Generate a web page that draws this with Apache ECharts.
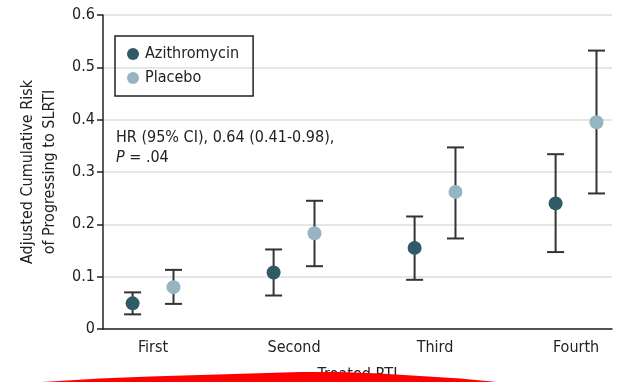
<!DOCTYPE html>
<html>
<head>
<meta charset="utf-8">
<script src="https://cdn.jsdelivr.net/npm/echarts@6/dist/echarts.min.js"></script>
<style>
html,body{margin:0;padding:0;background:#fff;}
#c{width:617px;height:382px;}
</style>
</head>
<body>
<div id="c"></div>
<script>
var categories = ['First', 'Second', 'Third', 'Fourth'];
var seriesNames = ['Azithromycin', 'Placebo'];
var aziMean = [0.049, 0.108, 0.155, 0.240];
var aziLow  = [0.028, 0.064, 0.094, 0.147];
var aziHigh = [0.070, 0.152, 0.215, 0.334];
var plaMean = [0.080, 0.183, 0.262, 0.395];
var plaLow  = [0.048, 0.120, 0.173, 0.259];
var plaHigh = [0.113, 0.245, 0.347, 0.532];
var yTicks = [0, 0.1, 0.2, 0.3, 0.4, 0.5, 0.6];

var FONT = '"DejaVu Sans Condensed", "DejaVu Sans", sans-serif';
var FS = 16;
var TXT = '#222222';
var C_AZI = '#305a66';
var C_PLA = '#97b5c1';
var OFF = 0.145;

function pts(mean, off) {
  return mean.map(function (v, i) { return [i + off, v]; });
}
function bars(low, high, off) {
  return low.map(function (v, i) { return [i + off, v, high[i]]; });
}
function errItem(params, api) {
  var x = api.value(0);
  var lo = api.coord([x, api.value(1)]);
  var hi = api.coord([x, api.value(2)]);
  var w = 8.5;
  var st = { stroke: '#333', lineWidth: 2 };
  return {
    type: 'group',
    children: [
      { type: 'line', shape: { x1: lo[0], y1: lo[1], x2: hi[0], y2: hi[1] }, style: st },
      { type: 'line', shape: { x1: lo[0] - w, y1: lo[1], x2: lo[0] + w, y2: lo[1] }, style: st },
      { type: 'line', shape: { x1: hi[0] - w, y1: hi[1], x2: hi[0] + w, y2: hi[1] }, style: st }
    ]
  };
}

var chart = echarts.init(document.getElementById('c'), null, { renderer: 'canvas' });

// red annotation stroke overlapping the bottom of the picture
var redShape = [[42, 382], [100, 378.5], [150, 376.5], [200, 375], [250, 373.5], [300, 372],
  [340, 372], [380, 373.5], [420, 376], [460, 378.5], [502, 382.5], [42, 382.5]];

chart.setOption({
  animation: false,
  textStyle: { fontFamily: FONT },
  grid: { left: 103, right: 5, top: 15, bottom: 53, outerBoundsMode: 'none', containLabel: false },
  legend: {
    orient: 'vertical',
    left: 115,
    top: 36,
    padding: [10, 14, 10, 12],
    itemGap: 8,
    itemWidth: 12,
    itemHeight: 12,
    borderColor: '#222',
    borderWidth: 1.5,
    borderRadius: 0,
    data: [{ name: seriesNames[0], icon: 'circle' }, { name: seriesNames[1], icon: 'circle' }],
    textStyle: { fontFamily: FONT, fontSize: FS, color: TXT, padding: [0, 0, 0, 1] }
  },
  xAxis: {
    type: 'value',
    min: -0.355,
    max: 3.255,
    name: 'Treated RTI',
    nameLocation: 'middle',
    nameGap: 38,
    nameTextStyle: { fontFamily: FONT, fontSize: FS, color: TXT },
    splitLine: { show: false },
    axisLine: { show: true, onZero: false, lineStyle: { color: '#222', width: 1.5 } },
    axisTick: { show: false },
    axisLabel: {
      customValues: [0, 1, 2, 3],
      formatter: function (v) { return categories[Math.round(v)]; },
      fontFamily: FONT, fontSize: FS, color: TXT, margin: 11
    }
  },
  yAxis: {
    type: 'value',
    min: 0,
    max: 0.6,
    interval: 0.1,
    name: 'Adjusted Cumulative Risk\nof Progressing to SLRTI',
    nameLocation: 'middle',
    nameGap: 40,
    nameTextStyle: { fontFamily: FONT, fontSize: FS, color: TXT, lineHeight: 22 },
    axisLine: { show: true, onZero: false, lineStyle: { color: '#222', width: 1.5 } },
    axisTick: { show: true, length: 6, lineStyle: { color: '#222', width: 1.5 } },
    axisLabel: {
      formatter: function (v) {
        for (var i = 0; i < yTicks.length; i++) {
          if (Math.abs(yTicks[i] - v) < 1e-9) return String(yTicks[i]);
        }
        return '';
      },
      fontFamily: FONT, fontSize: FS, color: TXT, margin: 8
    },
    splitLine: { show: true, lineStyle: { color: '#e6e6e6', width: 2 } }
  },
  graphic: [
    {
      type: 'text',
      left: 116,
      top: 128,
      style: {
        text: 'HR (95% CI), 0.64 (0.41-0.98),\n{it|P} = .04',
        font: FS + 'px ' + FONT,
        fill: TXT,
        lineHeight: 20,
        rich: { it: { fontStyle: 'italic', fontSize: FS, fontFamily: FONT, fill: TXT } }
      }
    },
    {
      type: 'polygon',
      z: 100,
      shape: { points: redShape },
      style: { fill: '#ff0000' }
    }
  ],
  series: [
    {
      type: 'custom',
      name: 'azi-ci',
      renderItem: errItem,
      data: bars(aziLow, aziHigh, -OFF),
      z: 2,
      silent: true
    },
    {
      type: 'custom',
      name: 'pla-ci',
      renderItem: errItem,
      data: bars(plaLow, plaHigh, OFF),
      z: 2,
      silent: true
    },
    {
      type: 'scatter',
      name: seriesNames[0],
      symbol: 'circle',
      symbolSize: 14,
      itemStyle: { color: C_AZI, opacity: 1 },
      data: pts(aziMean, -OFF),
      z: 3
    },
    {
      type: 'scatter',
      name: seriesNames[1],
      symbol: 'circle',
      symbolSize: 14,
      itemStyle: { color: C_PLA, opacity: 1 },
      data: pts(plaMean, OFF),
      z: 3
    }
  ]
});
</script>
</body>
</html>
